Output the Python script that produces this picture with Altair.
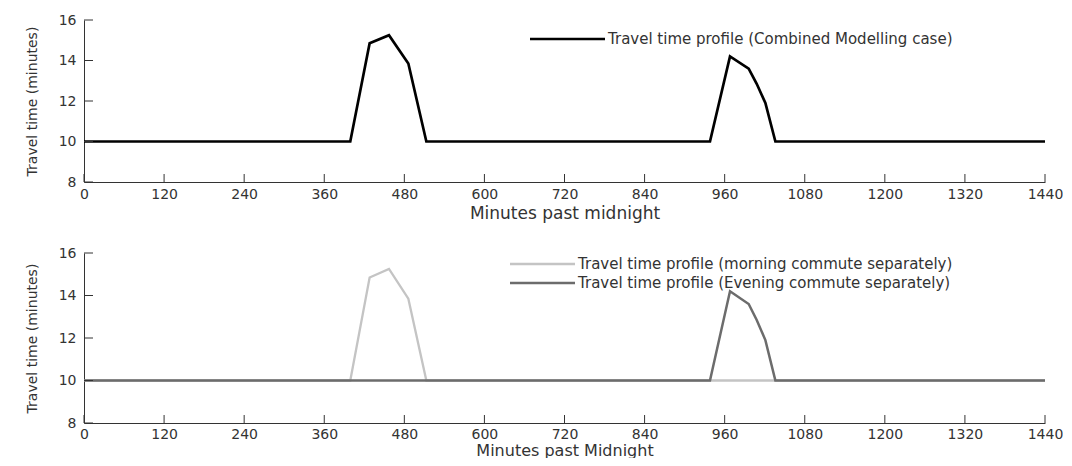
import altair as alt
import pandas as pd

# ---- data ----
minutes_combined = [0, 399, 428, 457, 486, 513, 938, 968, 996, 1008, 1021, 1036, 1440]
tt_combined = [10, 10, 14.85, 15.25, 13.85, 10, 10, 14.2, 13.6, 12.85, 11.9, 10, 10]

minutes_morning = [0, 399, 428, 457, 486, 513, 1440]
tt_morning = [10, 10, 14.85, 15.25, 13.85, 10, 10]

minutes_evening = [0, 938, 968, 996, 1008, 1021, 1036, 1440]
tt_evening = [10, 10, 14.2, 13.6, 12.85, 11.9, 10, 10]

x_ticks = [0, 120, 240, 360, 480, 600, 720, 840, 960, 1080, 1200, 1320, 1440]
y_ticks = [8, 10, 12, 14, 16]

label_combined = "Travel time profile (Combined Modelling case)"
label_morning = "Travel time profile (morning commute separately)"
label_evening = "Travel time profile (Evening commute separately)"

FONT = "DejaVu Sans"
TXT = "#333333"
W = 961
H_TOP = 162
H_BOT = 170

df_comb = pd.DataFrame({"minute": minutes_combined, "tt": tt_combined})
df_morn = pd.DataFrame({"minute": minutes_morning, "tt": tt_morning})
df_even = pd.DataFrame({"minute": minutes_evening, "tt": tt_evening})
df_xt = pd.DataFrame({"minute": x_ticks})
df_yt = pd.DataFrame({"tt": y_ticks})

xscale = alt.Scale(domain=[0, 1440], nice=False, zero=False)
yscale = alt.Scale(domain=[8, 16], nice=False, zero=False)


def x_axis(title, lpad, tpad, tsize):
    return alt.Axis(values=x_ticks, format="d", ticks=False, grid=False,
                    domainColor="#333333",
                    labelFont=FONT, labelFontSize=14, labelColor=TXT, labelPadding=lpad,
                    labelFlush=False, title=title, titleFont=FONT, titleFontSize=tsize,
                    titleFontWeight="normal", titleColor=TXT, titlePadding=tpad)


y_axis = alt.Axis(values=y_ticks, format="d", ticks=False, grid=False,
                  domainColor="#333333",
                  labelFont=FONT, labelFontSize=14, labelColor=TXT, labelPadding=8,
                  title="Travel time (minutes)", titleFont=FONT, titleFontSize=14,
                  titleFontWeight="normal", titleColor=TXT, titlePadding=19)


def line_layer(df, color, width, xax):
    return alt.Chart(df).mark_line(color=color, strokeWidth=width).encode(
        x=alt.X("minute:Q", scale=xscale, axis=xax),
        y=alt.Y("tt:Q", scale=yscale, axis=y_axis),
    )


def tick_layers(h, xax):
    xt = alt.Chart(df_xt).mark_rule(color="#333333", strokeWidth=1).encode(
        x=alt.X("minute:Q", scale=xscale, axis=xax),
        y=alt.value(h), y2=alt.value(h - 8),
    )
    yt = alt.Chart(df_yt).mark_rule(color="#333333", strokeWidth=1).encode(
        y=alt.Y("tt:Q", scale=yscale, axis=y_axis),
        x=alt.value(0), x2=alt.value(9),
    )
    return [xt, yt]


def legend_entry(label, color, width, x0, x1, y, size):
    d = pd.DataFrame({"label": [label]})
    r = alt.Chart(d).mark_rule(color=color, strokeWidth=width).encode(
        x=alt.value(x0), x2=alt.value(x1), y=alt.value(y))
    t = alt.Chart(d).mark_text(align="left", baseline="middle", font=FONT,
                               fontSize=size, color=TXT).encode(
        x=alt.value(x1 + 3), y=alt.value(y), text="label:N")
    return [r, t]


xt_ax = x_axis("Minutes past midnight", 5, 4, 17)
top = alt.layer(
    line_layer(df_comb, "#000000", 2.7, xt_ax),
    *tick_layers(H_TOP, xt_ax),
    *legend_entry(label_combined, "#000000", 2.7, 446, 521, 19, 15),
).properties(width=W, height=H_TOP)

xb = x_axis("Minutes past Midnight", 4, 1, 16)
bottom = alt.layer(
    line_layer(df_morn, "#c4c4c4", 2.3, xb),
    line_layer(df_even, "#6c6c6c", 2.5, xb),
    *tick_layers(H_BOT, xb),
    *legend_entry(label_morning, "#c4c4c4", 2.3, 426, 491, 11, 15),
    *legend_entry(label_evening, "#6c6c6c", 2.5, 426, 491, 30, 15),
).properties(width=W, height=H_BOT)

chart = alt.vconcat(top, bottom, spacing=71, bounds="flush").properties(
    padding={"left": 17, "top": 5, "right": 0, "bottom": 0},
    background="white",
).configure_view(stroke=None)

chart.save("out.html", embed_options={"renderer": "svg", "actions": False})
